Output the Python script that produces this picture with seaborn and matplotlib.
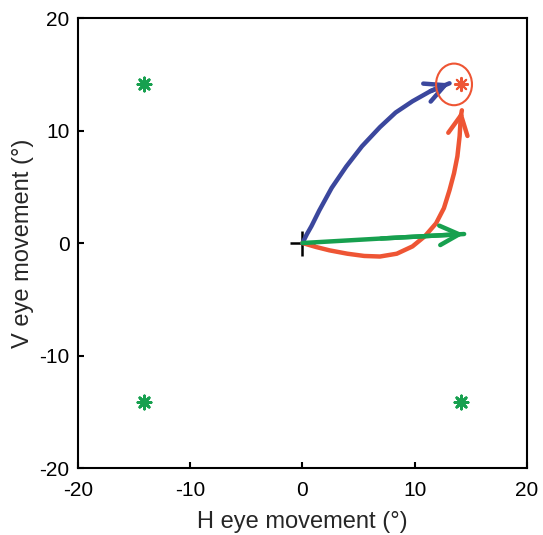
import numpy as np
import pandas as pd
import matplotlib
matplotlib.use("Agg")
import matplotlib.pyplot as plt
from matplotlib.patches import Ellipse
import seaborn as sns

# target positions (deg)
green_tx = [-14.1, -14.1, 14.1]
green_ty = [14.1, -14.1, -14.1]
red_tx = [14.1]
red_ty = [14.1]

# eye traces (deg)
blue_x = [0, 0.4, 0.8, 1.5, 2.6, 3.9, 5.3, 6.9, 8.3, 9.8, 11.4, 13.1]
blue_y = [0, 0.8, 1.5, 2.9, 4.9, 6.8, 8.6, 10.3, 11.6, 12.6, 13.5, 14.2]
red_x = [0, 1.2, 2.4, 4.0, 5.5, 6.9, 8.4, 9.8, 10.9, 11.9, 12.6, 13.1, 13.5, 13.8, 14.0, 14.1, 14.2]
red_y = [0, -0.35, -0.65, -0.95, -1.15, -1.2, -0.95, -0.3, 0.6, 1.75, 3.1, 4.7, 6.2, 7.7, 9.5, 11.2, 11.8]
green_x = [0, 7.0, 14.4]
green_y = [0, 0.4, 0.8]

# response window around the red target
win_center = (13.5, 14.1)
win_w, win_h = 3.2, 3.7

BLUE = "#3b479d"
RED = "#ee5534"
GREEN = "#17a04f"

sns.set_style("white")
plt.rcParams["font.family"] = ["Liberation Sans", "DejaVu Sans"]
plt.rcParams["axes.unicode_minus"] = False

fig = plt.figure(figsize=(5.43, 5.35), dpi=100)
ax = fig.add_axes([0.1436, 0.1252, 0.8269, 0.8411])

traces = [(blue_x, blue_y, BLUE), (red_x, red_y, RED), (green_x, green_y, GREEN)]
for xs, ys, col in traces:
    sns.lineplot(x=xs, y=ys, sort=False, estimator=None, color=col, lw=3.2, ax=ax,
                 zorder=3, solid_capstyle="round", solid_joinstyle="round")
    ax.annotate("", xy=(xs[-1], ys[-1]), xytext=(xs[-2], ys[-2]),
                arrowprops=dict(arrowstyle="->,head_length=1.4,head_width=0.7",
                                color=col, lw=3.2, shrinkA=0, shrinkB=0,
                                capstyle="round", joinstyle="round"), zorder=3)

sns.scatterplot(x=green_tx, y=green_ty, marker=(8, 2, 0), s=90, color=GREEN,
                linewidth=2, ax=ax, zorder=4)
sns.scatterplot(x=red_tx, y=red_ty, marker=(8, 2, 0), s=90, color=RED,
                linewidth=1.5, ax=ax, zorder=4)
ax.add_patch(Ellipse(win_center, win_w, win_h, fill=False, ec=RED, lw=1.5, zorder=4))

# fixation cross
ax.plot([0], [0], marker="+", ms=18, mew=1.8, color="black", zorder=2)

ax.set_xlim(-20, 20)
ax.set_ylim(-20, 20)
ax.set_xticks([-20, -10, 0, 10, 20])
ax.set_yticks([-20, -10, 0, 10, 20])
ax.tick_params(direction="in", length=4, width=1.5, labelsize=15, colors="black",
               top=False, right=False, bottom=True, left=True)
ax.tick_params(axis="x", pad=9)
ax.tick_params(axis="y", pad=6)
for s in ax.spines.values():
    s.set_color("black")
    s.set_linewidth(1.5)
ax.set_xlabel("H eye movement (°)", fontsize=17, labelpad=8)
ax.set_ylabel("V eye movement (°)", fontsize=17, labelpad=4)

fig.savefig("out.png", dpi=100)
